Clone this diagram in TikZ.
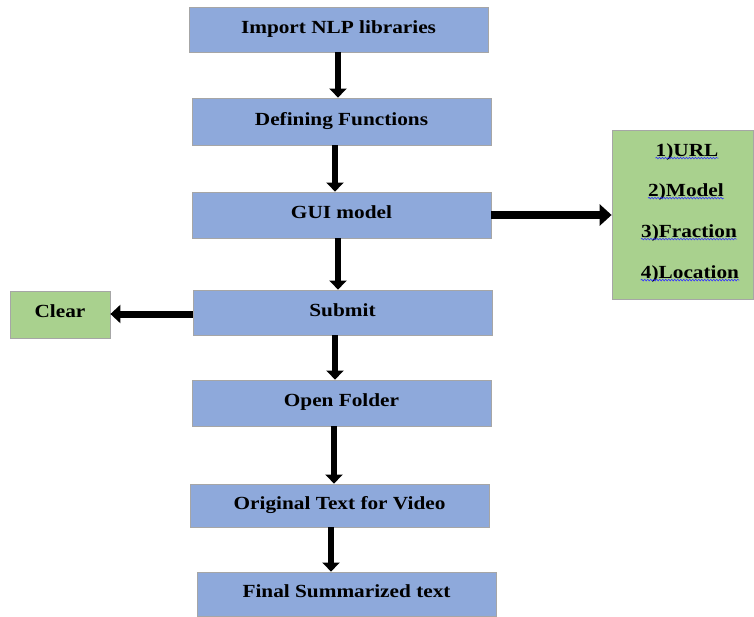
\documentclass[tikz,border=0pt]{standalone}
\usepackage{fontspec}
\setmainfont{Liberation Serif}[FakeStretch=1.15]
\usetikzlibrary{arrows.meta,decorations.pathmorphing}
\definecolor{boxblue}{HTML}{8EA9DB}
\definecolor{boxgreen}{HTML}{A9D18E}
\definecolor{edgegray}{HTML}{A6A6A6}
\begin{document}
\begin{tikzpicture}[x=1pt,y=-1pt,
  bluebox/.style={draw=edgegray,line width=0.8pt,fill=boxblue,minimum width=299pt,
    inner sep=0pt,text depth=5.5pt,font=\fontsize{18.5}{22}\selectfont\bfseries},
  greenbox/.style={draw=edgegray,line width=0.8pt,fill=boxgreen,inner sep=0pt,
    text depth=6pt,font=\fontsize{18.5}{22}\selectfont\bfseries},
  listitem/.style={inner sep=0pt,font=\fontsize{18.5}{22}\selectfont\bfseries},
  varr/.style={line width=6pt,-{Triangle[width=17pt,length=9pt]}},
  harr/.style={line width=8.5pt,-{Triangle[width=21pt,length=12pt]}},
  squiggle/.style={draw=blue!80,line width=0.6pt,decorate,
    decoration={snake,amplitude=0.8pt,segment length=3pt}}]
\useasboundingbox (0,0) rectangle (754,616);
\node[bluebox,minimum height=45pt] (imp) at (338.5,29.5) {Import NLP libraries};
\node[bluebox,minimum height=47pt] (def) at (341.5,121.5) {Defining Functions};
\node[bluebox,minimum height=46pt] (gui) at (341.5,215) {GUI model};
\node[bluebox,minimum height=45pt] (sub) at (342.5,312.5) {Submit};
\node[bluebox,minimum height=46pt] (open) at (341.5,403) {Open Folder};
\node[bluebox,minimum height=43pt] (orig) at (339.5,505.5) {Original Text for Video};
\node[bluebox,minimum height=44pt] (fin) at (346.5,594) {Final Summarized text};
\node[greenbox,minimum width=141pt,minimum height=169pt] (list) at (682.5,214.5) {};
\node[greenbox,minimum width=100pt,minimum height=47pt] (clr) at (60,314.5) {Clear};
\node[listitem] (l1) at (687,152) {1)URL};
\node[listitem] (l2) at (686,192) {2)Model};
\node[listitem] (l3) at (689,233) {3)Fraction};
\node[listitem] (l4) at (690,274) {4)Location};
\foreach \n in {l1,l2,l3,l4}{
  \draw[squiggle] ([yshift=2.5pt]\n.south west) -- ([yshift=2.5pt]\n.south east);
}
\draw[varr] ([xshift=-0.5pt]imp.south) -- ([xshift=-3.5pt]def.north);
\draw[varr] ([xshift=-6.5pt]def.south) -- ([xshift=-6.5pt]gui.north);
\draw[varr] ([xshift=-3.5pt]gui.south) -- ([xshift=-4.5pt]sub.north);
\draw[varr] ([xshift=-7.5pt]sub.south) -- ([xshift=-6.5pt]open.north);
\draw[varr] ([xshift=-7.5pt]open.south) -- ([xshift=-5.5pt]orig.north);
\draw[varr] ([xshift=-8.5pt]orig.south) -- ([xshift=-15.5pt]fin.north);
\draw[harr] (gui.east) -- (list.west |- gui.east);
\draw[line width=7pt,-{Triangle[width=18pt,length=10pt]}] (sub.west |- 0,314) -- (clr.east |- 0,314);
\end{tikzpicture}
\end{document}
